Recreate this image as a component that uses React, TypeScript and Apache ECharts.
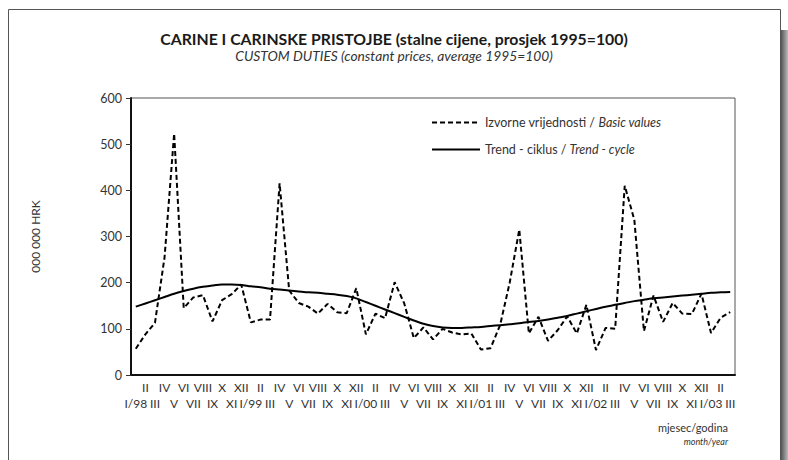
import React, { useEffect, useRef } from "react";
import * as echarts from "echarts";

const romanMonths = ["I", "II", "III", "IV", "V", "VI", "VII", "VIII", "IX", "X", "XI", "XII"];
const yearSuffixes = ["98", "99", "00", "01", "02", "03"];
const monthsInLastYear = 3;

const categories: string[] = [];
yearSuffixes.forEach((yy, yi) => {
  const n = yi === yearSuffixes.length - 1 ? monthsInLastYear : 12;
  for (let m = 0; m < n; m++) {
    categories.push(m === 0 ? `I/${yy}` : romanMonths[m]);
  }
});

const basicValues = [
  57, 88, 113, 255, 523, 145, 168, 173, 116, 162, 175, 196,
  114, 120, 120, 415, 183, 156, 148, 133, 154, 136, 134, 188,
  88, 133, 123, 201, 155, 80, 103, 77, 100, 92, 88, 90,
  55, 58, 108, 200, 315, 90, 126, 74, 97, 127, 90, 152,
  54, 102, 100, 410, 336, 95, 172, 115, 156, 133, 132, 176,
  91, 124, 136,
];

const trendCycle = [
  148, 155, 162, 169, 176, 182, 187, 191, 194, 196, 196, 195,
  192, 190, 187, 185, 183, 181, 179, 178, 176, 174, 171, 166,
  158, 150, 142, 134, 126, 118, 111, 106, 103, 102, 102, 103,
  104, 106, 108, 110, 112, 115, 117, 120, 124, 128, 133, 138,
  143, 148, 152, 156, 160, 163, 166, 168, 170, 172, 174, 176,
  178, 179, 180,
];

const yTicks = [0, 100, 200, 300, 400, 500, 600];

const seriesNames = ["Izvorne vrijednosti / Basic values", "Trend - ciklus / Trend - cycle"];
const titleMain = "CARINE I CARINSKE PRISTOJBE (stalne cijene, prosjek 1995=100)";
const titleSub = "CUSTOM DUTIES (constant prices, average 1995=100)";
const yAxisName = "000 000 HRK";

const FONT = "Lato, 'Open Sans', sans-serif";

export default function App() {
  const ref = useRef<HTMLDivElement>(null);
  useEffect(() => {
    if (!ref.current) return;
    const chart = echarts.init(ref.current, undefined, { renderer: "svg" });
    chart.setOption({
      animation: false,
      backgroundColor: "#ffffff",
      textStyle: { fontFamily: FONT },
      title: {
        text: titleMain,
        subtext: titleSub,
        left: "center",
        top: 25,
        itemGap: 2,
        textStyle: { fontFamily: FONT, fontSize: 15.8, fontWeight: "bold", color: "#1a1a1a" },
        subtextStyle: { fontFamily: FONT, fontSize: 13.8, fontStyle: "italic", color: "#333" },
      },
      legend: {
        orient: "vertical",
        left: 426,
        top: 111,
        itemWidth: 48,
        itemHeight: 12,
        itemGap: 14,
        itemStyle: { opacity: 0, borderWidth: 0 },
        data: seriesNames,
        formatter: (name: string) => {
          const [a, b] = name.split(" / ");
          return `{n|${a} / }{i|${b}}`;
        },
        textStyle: {
          color: "#333",
          rich: {
            n: { fontFamily: FONT, fontSize: 12.5, color: "#333" },
            i: { fontFamily: FONT, fontSize: 12.5, fontStyle: "italic", color: "#333" },
          },
        },
      },
      grid: {
        left: 131,
        right: 53,
        top: 98,
        bottom: 85,
        show: true,
        borderColor: "#555",
        borderWidth: 1,
      },
      xAxis: {
        type: "category",
        data: categories,
        boundaryGap: true,
        axisLine: { lineStyle: { color: "#111", width: 2 } },
        axisTick: { show: false },
        axisLabel: {
          interval: 0,
          margin: 4,
          fontFamily: FONT,
          fontSize: 12,
          lineHeight: 16,
          color: "#333",
          formatter: (v: string, idx: number) => (idx % 2 === 0 ? "\n" + v : v),
        },
        splitLine: { show: false },
      },
      yAxis: {
        type: "value",
        min: yTicks[0],
        max: yTicks[yTicks.length - 1],
        interval: 100,
        name: yAxisName,
        nameLocation: "middle",
        nameGap: 90,
        nameRotate: 90,
        nameTextStyle: { fontFamily: FONT, fontSize: 12, color: "#333" },
        axisLine: { show: true, lineStyle: { color: "#111", width: 2 } },
        axisTick: { show: true, length: 5, lineStyle: { color: "#333", width: 1 } },
        axisLabel: { margin: 9, fontFamily: FONT, fontSize: 12.5, color: "#333" },
        splitLine: { show: false },
      },
      series: [
        {
          name: seriesNames[0],
          type: "line",
          data: basicValues,
          symbol: "none",
          lineStyle: { color: "#000", width: 2, type: [5, 3] },
          itemStyle: { color: "#000" },
          z: 3,
        },
        {
          name: seriesNames[1],
          type: "line",
          data: trendCycle,
          symbol: "none",
          smooth: 0.3,
          lineStyle: { color: "#000", width: 2 },
          itemStyle: { color: "#000" },
          z: 2,
        },
      ],
      graphic: [
        {
          type: "rect",
          z: -10,
          shape: { x: 781, y: 30, width: 7, height: 430 },
          style: {
            fill: new echarts.graphic.LinearGradient(0, 0, 1, 0, [
              { offset: 0, color: "#555" },
              { offset: 1, color: "#bbb" },
            ]),
          },
        },
        {
          type: "rect",
          z: -9,
          shape: { x: 8.5, y: 9.5, width: 772, height: 460 },
          style: { fill: "none", stroke: "#555", lineWidth: 1 },
        },
        {
          type: "text",
          right: 60,
          top: 422,
          style: {
            text: "mjesec/godina",
            font: `11px ${FONT}`,
            fill: "#333",
            textAlign: "right",
          },
        },
        {
          type: "text",
          right: 60,
          top: 437,
          style: {
            text: "month/year",
            font: `italic 9px ${FONT}`,
            fill: "#333",
            textAlign: "right",
          },
        },
      ],
    });
    return () => chart.dispose();
  }, []);
  return (
    <div
      ref={ref}
      style={{ position: "fixed", left: 0, top: 0, width: 788, height: 460, background: "#fff" }}
    />
  );
}
